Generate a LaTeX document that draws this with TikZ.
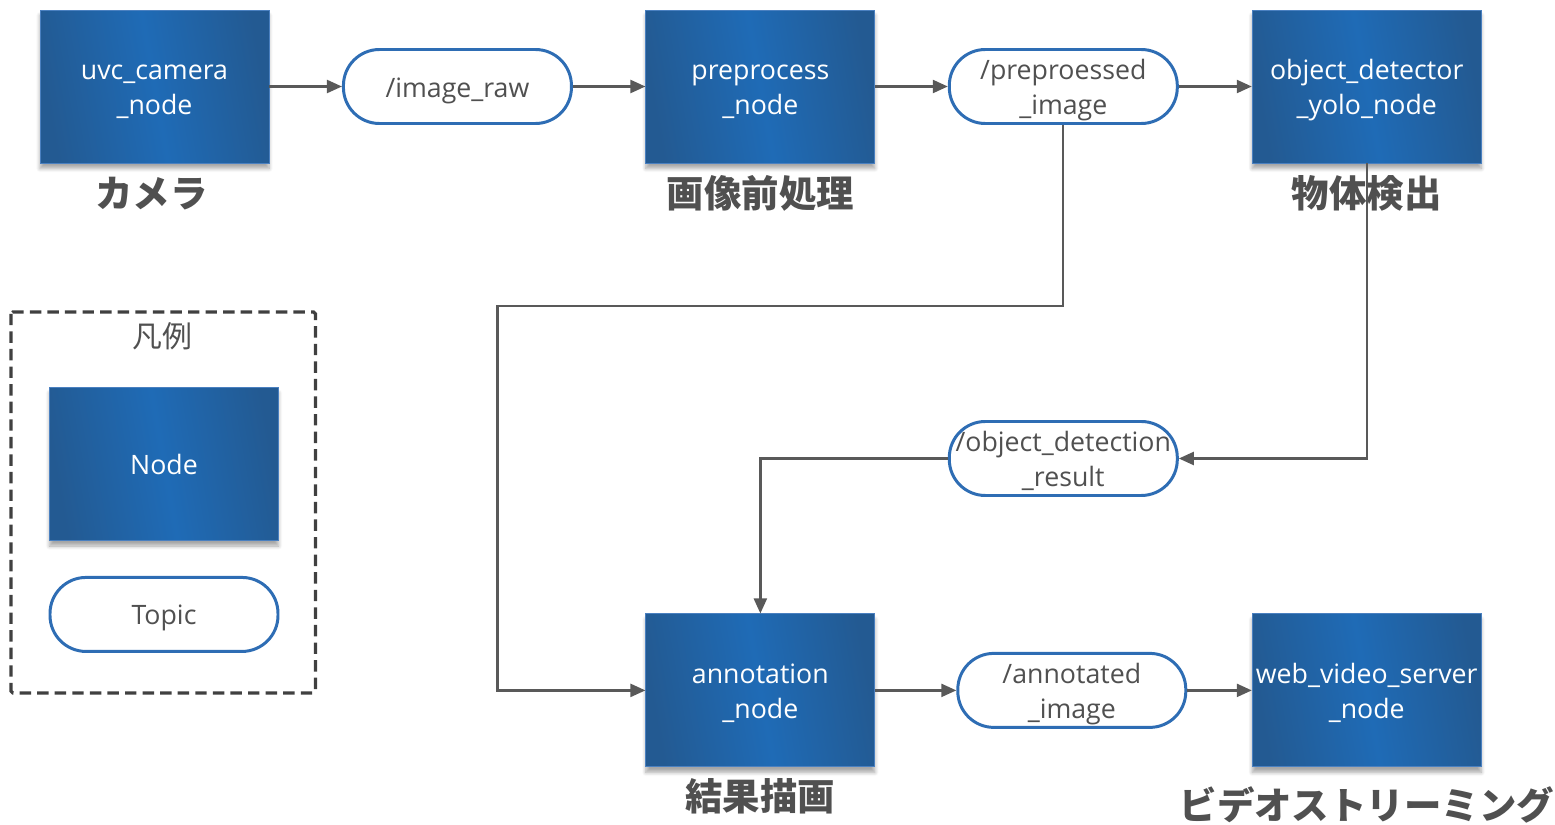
\documentclass[tikz,border=0pt]{standalone}
\usepackage{fontspec}
\setmainfont{Open Sans}
\newfontfamily\jpfont{Noto Sans CJK JP}
\usetikzlibrary{arrows.meta,positioning,calc,shadows.blur}
\definecolor{RosDark}{HTML}{235A92}
\definecolor{RosLight}{HTML}{1F6BB6}
\definecolor{RosEdge}{HTML}{4A80C0}
\definecolor{TopicEdge}{HTML}{2E6DB4}
\definecolor{FlowGray}{HTML}{595959}
\definecolor{TextGray}{HTML}{505050}
\definecolor{FrameGray}{HTML}{404040}
\tikzset{
  fixlines/.style={execute at begin node={\rule{0pt}{16pt}},execute at end node={\rule[-4pt]{0pt}{4pt}}},
  twoline/.style={execute at begin node={\rule{0pt}{35.8pt}}},
  rosnode/.style={rectangle,draw=RosEdge,line width=0.5pt,left color=RosDark,right color=RosDark,middle color=RosLight,shading angle=100,
    minimum width=45.8mm,minimum height=30.6mm,inner sep=1pt,align=center,text=white,font=\fontsize{15.2}{19.85}\selectfont,fixlines,
    blur shadow={shadow xshift=0pt,shadow yshift=-1.1mm,shadow blur steps=6,shadow opacity=35}},
  topicbox/.style={rectangle,draw=TopicEdge,line width=1.7pt,fill=white,rounded corners=7.2mm,
    minimum width=45.6mm,minimum height=14.8mm,inner sep=0pt,align=center,text=TextGray,font=\fontsize{15.2}{19.85}\selectfont,fixlines},
  caption/.style={font=\jpfont\bfseries\fontsize{21.3}{25}\selectfont,text=TextGray,inner sep=0pt},
  legtitle/.style={font=\jpfont\fontsize{17}{20}\selectfont,text=TextGray,inner sep=0pt},
  legendframe/.style={draw=FrameGray,line width=1.8pt,dash pattern=on 6.5pt off 3.5pt,rounded corners=1pt},
  flowarrow/.style={-{Triangle[length=3mm,width=2.6mm]},line width=1.3pt,draw=FlowGray}
}
\begin{document}
\begin{tikzpicture}
\useasboundingbox (0,0) rectangle (311mm,-164.8mm);
% upper row
\node[rosnode,twoline] (uvc) at (30.9mm,-17.3mm) {uvc\_camera\\\_node};
\node[topicbox,right=14.5mm of uvc] (raw) {/image\_raw};
\node[rosnode,twoline,right=14.5mm of raw] (pre) {preprocess\\\_node};
\node[topicbox,twoline,right=14.5mm of pre] (pimg) {/preproessed\\\_image};
\node[rosnode,twoline,right=14.6mm of pimg] (det) {object\_detector\\\_yolo\_node};
% middle and lower row
\node[topicbox,twoline,below=59mm of pimg] (odr) {/object\_detection\\\_result};
\node[rosnode,twoline,below=90mm of pre] (ann) {annotation\\\_node};
\node[topicbox,twoline,right=16.2mm of ann] (aimg) {/annotated\\\_image};
\node[rosnode,twoline,right=12.9mm of aimg] (web) {web\_video\_server\\\_node};
% captions
\node[caption] (capuvc) at ($(uvc.south)+(-0.6mm,-6mm)$) {カメラ};
\node[caption] (cappre) at ($(pre.south)+(0,-6mm)$) {画像前処理};
\node[caption] (capdet) at ($(det.south)+(0,-6mm)$) {物体検出};
\node[caption] (capann) at ($(ann.south)+(0,-5.8mm)$) {結果描画};
\node[caption] (capweb) at ($(web.south)+(0,-7.6mm)$) {ビデオストリーミング};
% legend
\node[rosnode] (legnode) at (32.8mm,-92.8mm) {Node};
\node[topicbox,below=7mm of legnode] (legtopic) {Topic};
\node[legtitle] (legt) at ($(legnode.north)+(-0.4mm,10.2mm)$) {凡例};
\draw[legendframe] ($(legnode.north west)+(-7.6mm,15mm)$) rectangle ($(legtopic.south east)+(7.2mm,-8mm)$);
% connectors
\draw[flowarrow] (uvc.east)--(raw.west);
\draw[flowarrow] (raw.east)--(pre.west);
\draw[flowarrow] (pre.east)--(pimg.west);
\draw[flowarrow] (pimg.east)--(det.west);
\draw[flowarrow] (pimg.south)--++(0,-36.2mm)-|($(ann.west)+(-29.6mm,0)$)--(ann.west);
\draw[flowarrow] (det.south)|-(odr.east);
\draw[flowarrow] (odr.west)-|(ann.north);
\draw[flowarrow] (ann.east)--(aimg.west);
\draw[flowarrow] (aimg.east)--(web.west);
\end{tikzpicture}
\end{document}
